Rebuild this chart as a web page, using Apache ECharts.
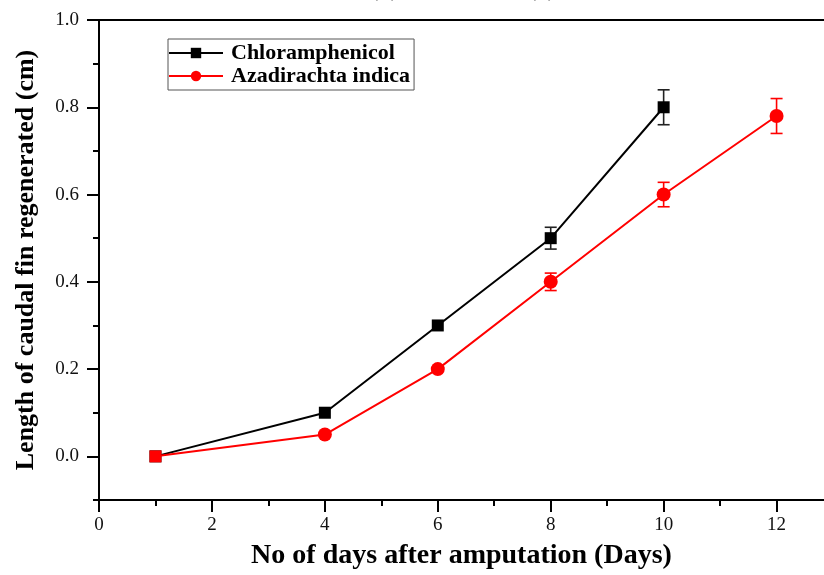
<!DOCTYPE html>
<html>
<head>
<meta charset="utf-8">
<script src="https://cdn.jsdelivr.net/npm/echarts@6/dist/echarts.min.js"></script>
<style>html,body{margin:0;padding:0;background:#fff;}#c{width:824px;height:575px;}</style>
</head>
<body>
<div id="c"></div>
<script>
// ---- data ----
const seriesNames = ['Chloramphenicol', 'Azadirachta indica'];
const chlorDays = [1, 4, 6, 8, 10];
const chlorLength = [0, 0.1, 0.3, 0.5, 0.8];
const chlorErr = [0, 0, 0, 0.025, 0.04];
const azaDays = [1, 4, 6, 8, 10, 12];
const azaLength = [0, 0.05, 0.2, 0.4, 0.6, 0.78];
const azaErr = [0, 0, 0, 0.02, 0.028, 0.04];
const xMajorTicks = [0, 2, 4, 6, 8, 10, 12];
const xMinorTicks = [1, 3, 5, 7, 9, 11];
const yMajorTicks = [0, 0.2, 0.4, 0.6, 0.8, 1.0];
const yMinorTicks = [-0.1, 0.1, 0.3, 0.5, 0.7, 0.9];
const xTitle = 'No of days after amputation (Days)';
const yTitle = 'Length of caudal fin regenerated (cm)';
const topCaption = 'control treated (A), A. indica treated (B).';

const serif = 'Liberation Serif';
const chart = echarts.init(document.getElementById('c'), null, {renderer: 'canvas'});

function pairs(xs, ys) { return xs.map((x, i) => [x, ys[i]]); }
function errData(xs, ys, es) { return xs.map((x, i) => [x, ys[i], es[i]]); }
function errRender(color) {
  return function (params, api) {
    const x = api.value(0), y = api.value(1), e = api.value(2);
    if (!e) return null;
    const top = api.coord([x, y + e]);
    const bot = api.coord([x, y - e]);
    const hw = 6;
    const st = {stroke: color, lineWidth: 1.6};
    return {
      type: 'group',
      children: [
        {type: 'line', shape: {x1: top[0], y1: top[1], x2: bot[0], y2: bot[1]}, style: st},
        {type: 'line', shape: {x1: top[0] - hw, y1: top[1], x2: top[0] + hw, y2: top[1]}, style: st},
        {type: 'line', shape: {x1: bot[0] - hw, y1: bot[1], x2: bot[0] + hw, y2: bot[1]}, style: st}
      ]
    };
  };
}

const xMin = 0, xMax = 12.84, yMin = -0.1, yMax = 1.0;
const axisLineStyle = {color: '#000', width: 2};
const fmt1 = v => v.toFixed(1);

const azaData = pairs(azaDays, azaLength).map((p, i) => i === 0 ? {value: p, symbol: 'rect', symbolSize: 12} : p);

chart.setOption({
  animation: false,
  backgroundColor: '#fff',
  graphic: [{
    type: 'text', left: 263, top: -17,
    style: {text: topCaption, font: '18px "Liberation Serif"', fill: '#444'}
  }],
  grid: {left: 99, right: 0, top: 20, bottom: 75},
  legend: {
    data: seriesNames,
    orient: 'vertical',
    left: 168, top: 39,
    itemWidth: 54, itemHeight: 13, itemGap: 1,
    padding: [3, 4, 3, 0],
    borderColor: '#555', borderWidth: 1,
    textStyle: {fontFamily: serif, fontWeight: 'bold', fontSize: 22, color: '#000', padding: [0, 0, 0, 3]}
  },
  xAxis: [
    {
      type: 'value', position: 'bottom', min: xMin, max: xMax,
      axisLine: {show: true, onZero: false, lineStyle: axisLineStyle},
      axisTick: {show: true, inside: false, length: 12, lineStyle: {color: '#000', width: 2}, customValues: xMajorTicks},
      axisLabel: {customValues: xMajorTicks, fontFamily: serif, fontSize: 19, color: '#111', margin: 16},
      splitLine: {show: false},
      name: xTitle, nameLocation: 'middle', nameGap: 42,
      nameTextStyle: {fontFamily: serif, fontWeight: 'bold', fontSize: 28, color: '#000'}
    },
    {
      type: 'value', position: 'bottom', min: xMin, max: xMax,
      axisLine: {show: false, onZero: false},
      axisTick: {show: true, length: 6, lineStyle: {color: '#000', width: 2}, customValues: xMinorTicks},
      axisLabel: {show: false}, splitLine: {show: false}
    },
    {
      type: 'value', position: 'top', min: xMin, max: xMax,
      axisLine: {show: true, onZero: false, lineStyle: axisLineStyle},
      axisTick: {show: false}, axisLabel: {show: false}, splitLine: {show: false}
    }
  ],
  yAxis: [
    {
      type: 'value', position: 'left', min: yMin, max: yMax,
      axisLine: {show: true, onZero: false, lineStyle: axisLineStyle},
      axisTick: {show: true, length: 12, lineStyle: {color: '#000', width: 2}, customValues: yMajorTicks},
      axisLabel: {customValues: yMajorTicks, formatter: fmt1, fontFamily: serif, fontSize: 19, color: '#111', margin: 20},
      splitLine: {show: false},
      name: yTitle, nameLocation: 'middle', nameGap: 60, nameRotate: 90,
      nameTextStyle: {fontFamily: serif, fontWeight: 'bold', fontSize: 26, color: '#000'}
    },
    {
      type: 'value', position: 'left', min: yMin, max: yMax,
      axisLine: {show: false, onZero: false},
      axisTick: {show: true, length: 6, lineStyle: {color: '#000', width: 2}, customValues: yMinorTicks},
      axisLabel: {show: false}, splitLine: {show: false}
    }
  ],
  series: [
    {
      type: 'custom', name: 'chlorErr', xAxisIndex: 0, yAxisIndex: 0,
      renderItem: errRender('#222'), data: errData(chlorDays, chlorLength, chlorErr), z: 1, silent: true
    },
    {
      type: 'custom', name: 'azaErr', xAxisIndex: 0, yAxisIndex: 0,
      renderItem: errRender('#ff0000'), data: errData(azaDays, azaLength, azaErr), z: 1, silent: true
    },
    {
      type: 'line', name: seriesNames[0], xAxisIndex: 0, yAxisIndex: 0,
      data: pairs(chlorDays, chlorLength),
      symbol: 'rect', symbolSize: 12,
      lineStyle: {color: '#000', width: 2}, itemStyle: {color: '#000'}, z: 2
    },
    {
      type: 'line', name: seriesNames[1], xAxisIndex: 0, yAxisIndex: 0,
      data: azaData,
      symbol: 'circle', symbolSize: 14,
      lineStyle: {color: '#ff0000', width: 2}, itemStyle: {color: '#ff0000'}, z: 3
    }
  ]
});
</script>
</body>
</html>
